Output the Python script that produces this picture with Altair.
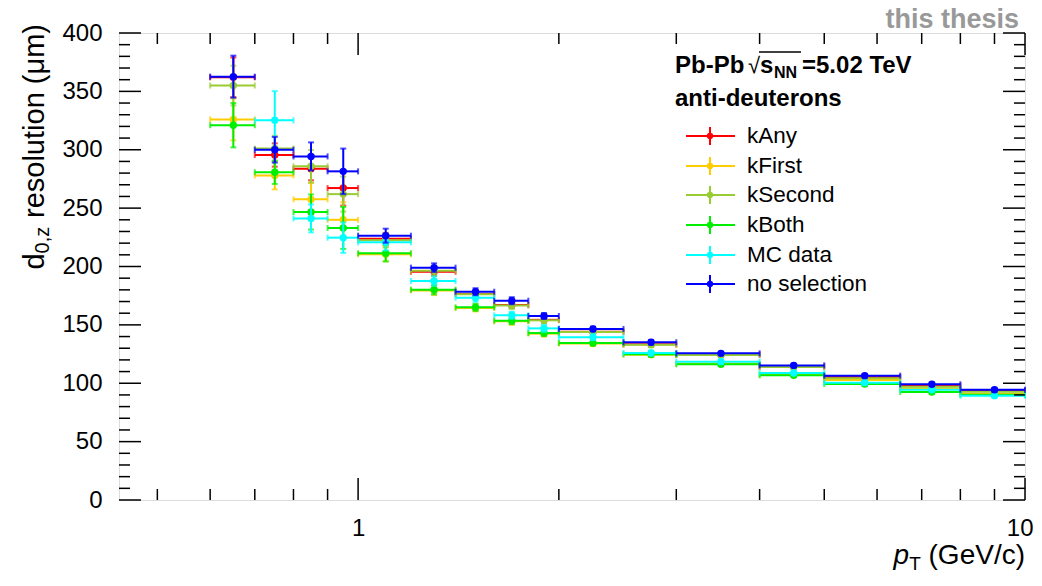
import altair as alt
import pandas as pd

# ---------------- data ----------------
bin_lo = [0.6, 0.7, 0.8, 0.9, 1.0, 1.2, 1.4, 1.6, 1.8, 2.0, 2.5, 3.0, 4.0, 5.0, 6.5, 8.0]
bin_hi = [0.7, 0.8, 0.9, 1.0, 1.2, 1.4, 1.6, 1.8, 2.0, 2.5, 3.0, 4.0, 5.0, 6.5, 8.0, 10.0]

series = ["kAny", "kFirst", "kSecond", "kBoth", "MC data", "no selection"]
colors = ["#ff0000", "#ffcc00", "#99cc33", "#00ee00", "#00ffff", "#0000ff"]

val_kany = [362, 295.5, 283.8, 267.2, 223.8, 195.5, 176.5, 167, 154.3, 144.2, 133.3, 124.5, 114.2, 105.4, 97.9, 93.6]
err_kany = [17, 10, 10, 15, 5, 3.5, 3, 2.5, 2.5, 2, 2, 1.5, 1.5, 1.5, 1.5, 1.5]
val_kfirst = [326, 278, 257.5, 240, 210.5, 179.5, 164.5, 153, 142.5, 134, 124.5, 117, 107.5, 102.8, 95.6, 91.1]
err_kfirst = [18, 12, 14, 15, 6, 4, 3, 3, 2.5, 2, 2, 1.5, 1.5, 1.5, 1.5, 1.5]
val_ksecond = [355, 301, 285.8, 262, 222.5, 196.4, 176.2, 166.5, 153.9, 144, 133, 124.3, 114, 104.2, 97.1, 92.8]
err_ksecond = [17, 11, 14, 15, 6, 4, 3, 3, 2.5, 2, 2, 1.5, 1.5, 1.5, 1.5, 1.5]
val_kboth = [321, 280.7, 246.7, 233, 211.3, 180.1, 165, 153.6, 143, 134.5, 124.8, 116.2, 106.8, 99.4, 92.5, 90.2]
err_kboth = [19, 10, 15, 18, 7, 4, 3, 3, 2.5, 2, 2, 1.5, 1.5, 1.5, 1.5, 1.5]
val_mc = [None, 325.2, 241.2, 224.7, 220.7, 187.6, 173.3, 158.2, 147, 139.4, 125.9, 118.5, 108.8, 100.5, 94.5, 89.4]
err_mc = [None, 25, 12, 13, 7, 4, 3.5, 3, 3, 2.5, 2, 2, 1.5, 1.5, 1.5, 1.5]
val_nosel = [362.6, 300, 294.3, 281.5, 226.4, 199, 178.4, 170.7, 157.6, 146.5, 135.1, 125.6, 115.3, 106.5, 99.1, 94.5]
err_nosel = [18, 11, 12, 19.5, 6, 3.7, 3, 3, 2.5, 2, 2, 1.5, 1.5, 1.5, 1.5, 1.5]

y_major = [0, 50, 100, 150, 200, 250, 300, 350, 400]
y_minor = [v for v in range(0, 401, 10) if v % 50 != 0]
x_major = [1, 10]
x_minor = [0.5, 0.6, 0.7, 0.8, 0.9, 2, 3, 4, 5, 6, 7, 8, 9]

all_vals = [val_kany, val_kfirst, val_ksecond, val_kboth, val_mc, val_nosel]
all_errs = [err_kany, err_kfirst, err_ksecond, err_kboth, err_mc, err_nosel]

rows = []
for s, vals, errs in zip(series, all_vals, all_errs):
    for lo, hi, v, e in zip(bin_lo, bin_hi, vals, errs):
        if v is None:
            continue
        rows.append(dict(series=s, lo=lo, hi=hi, x=(lo + hi) / 2, y=v, ylo=v - e, yhi=v + e))
df = pd.DataFrame(rows)

# ---------------- layout ----------------
W, H = 906, 467
FONT = "Liberation Sans"
TL_MAJ, TL_MIN = 22, 11
LS = 24  # tick label size

xs = alt.Scale(type="log", domain=[0.438, 10], nice=False)
ys = alt.Scale(domain=[0, 400], nice=False)

xaxis = alt.Axis(values=x_major, format="d", title=None, ticks=False, domain=False, grid=False,
                 labelFont=FONT, labelFontSize=LS, labelColor="black", labelPadding=16,
                 labelFlush=True, labelFlushOffset=8)
yaxis = alt.Axis(values=y_major, format="d", title=None, ticks=False, domain=False, grid=False,
                 labelFont=FONT, labelFontSize=LS, labelColor="black", labelPadding=17,
                 labelFlush=False)

layers = []

# axis carrier (invisible)
layers.append(
    alt.Chart(df).mark_point(opacity=0).encode(
        x=alt.X("x:Q", scale=xs, axis=xaxis),
        y=alt.Y("y:Q", scale=ys, axis=yaxis),
    )
)

for s, c in zip(series, colors):
    d = df[df.series == s]
    base = alt.Chart(d)
    hbar = base.mark_rule(color=c, strokeWidth=2).encode(
        x=alt.X("lo:Q", scale=xs, axis=xaxis), x2="hi:Q",
        y=alt.Y("y:Q", scale=ys, axis=yaxis))
    vbar = base.mark_rule(color=c, strokeWidth=2).encode(
        x=alt.X("x:Q", scale=xs, axis=xaxis),
        y=alt.Y("ylo:Q", scale=ys, axis=yaxis), y2="yhi:Q")
    capl = base.mark_tick(color=c, orient="vertical", size=6, thickness=2).encode(
        x=alt.X("lo:Q", scale=xs, axis=xaxis), y=alt.Y("y:Q", scale=ys, axis=yaxis))
    caph = base.mark_tick(color=c, orient="vertical", size=6, thickness=2).encode(
        x=alt.X("hi:Q", scale=xs, axis=xaxis), y=alt.Y("y:Q", scale=ys, axis=yaxis))
    capb = base.mark_tick(color=c, orient="horizontal", size=6, thickness=2).encode(
        x=alt.X("x:Q", scale=xs, axis=xaxis), y=alt.Y("ylo:Q", scale=ys, axis=yaxis))
    capt = base.mark_tick(color=c, orient="horizontal", size=6, thickness=2).encode(
        x=alt.X("x:Q", scale=xs, axis=xaxis), y=alt.Y("yhi:Q", scale=ys, axis=yaxis))
    pts = base.mark_point(filled=True, size=55, opacity=1, color=c).encode(
        x=alt.X("x:Q", scale=xs, axis=xaxis), y=alt.Y("y:Q", scale=ys, axis=yaxis))
    layers += [hbar, vbar, capl, caph, capb, capt, pts]

# ---------------- inward ROOT-style ticks ----------------
ymaj = pd.DataFrame({"v": y_major})
ymin = pd.DataFrame({"v": y_minor})
xmaj = pd.DataFrame({"v": x_major})
xmin = pd.DataFrame({"v": x_minor})
tk = dict(color="black", strokeWidth=1.5)
for dd, L in [(ymaj, TL_MAJ), (ymin, TL_MIN)]:
    layers.append(alt.Chart(dd).mark_rule(**tk).encode(
        y=alt.Y("v:Q", scale=ys, axis=yaxis), x=alt.value(0), x2=alt.value(L)))
    layers.append(alt.Chart(dd).mark_rule(**tk).encode(
        y=alt.Y("v:Q", scale=ys, axis=yaxis), x=alt.value(W), x2=alt.value(W - L)))
for dd, L in [(xmaj, TL_MAJ), (xmin, TL_MIN)]:
    layers.append(alt.Chart(dd).mark_rule(**tk).encode(
        x=alt.X("v:Q", scale=xs, axis=xaxis), y=alt.value(H), y2=alt.value(H - L)))
    layers.append(alt.Chart(dd).mark_rule(**tk).encode(
        x=alt.X("v:Q", scale=xs, axis=xaxis), y=alt.value(0), y2=alt.value(L)))

# ---------------- texts ----------------
def txt(t, x, y, size=22, bold=False, align="left", angle=0, color="black", italic=False, baseline="middle"):
    kw = dict(font=FONT, fontSize=size, align=align, baseline=baseline, color=color, text=t)
    if bold:
        kw["fontWeight"] = "bold"
    if italic:
        kw["fontStyle"] = "italic"
    if angle:
        kw["angle"] = angle
    return alt.Chart(pd.DataFrame({"a": [0]})).mark_text(**kw).encode(x=alt.value(x), y=alt.value(y))

# y title (rotated): d_{0,z} resolution (um)
TSY, SUBY = 29, 20
YT_X = -84
y_sub_end = -9 + 6.99 * TSY
layers.append(txt(" resolution (\u03bcm)", YT_X, -9, size=TSY, align="right", angle=270))
layers.append(txt("0,z", YT_X + 8, y_sub_end, size=SUBY, align="right", angle=270))
layers.append(txt("d", YT_X, y_sub_end + 1.334 * SUBY, size=TSY, align="right", angle=270))

# x title: p_T (GeV/c)
TSX, SUBX = 28, 19
XT_BASE = H + 64   # alphabetic baseline (chart px)
layers.append(txt(" (GeV/c)", W, XT_BASE, size=TSX, align="right", baseline="alphabetic"))
x_sub_end = W - 3.723 * TSX
layers.append(txt("T", x_sub_end, XT_BASE + 6, size=SUBX, align="right", baseline="alphabetic"))
layers.append(txt("p", x_sub_end - 0.611 * SUBX, XT_BASE, size=TSX, align="right", italic=True,
                  baseline="alphabetic"))

# "this thesis"
layers.append(txt("this thesis", 900, -5, size=27, bold=True, align="right", color="#999999",
                  baseline="alphabetic"))

# header
layers.append(txt("Pb-Pb", 556, 33, size=24, bold=True))
layers.append(txt("\u221a", 629, 33, size=22, bold=False))
layers.append(txt("s", 641, 33, size=24, bold=True))
layers.append(txt("NN", 655, 40, size=16, bold=True))
layers.append(txt("=5.02 TeV", 683, 33, size=24, bold=True))
layers.append(alt.Chart(pd.DataFrame({"a": [0]})).mark_rule(color="black", strokeWidth=1.5).encode(
    x=alt.value(640), x2=alt.value(682), y=alt.value(19)))
layers.append(txt("anti-deuterons", 556, 66, size=24, bold=True))

# legend
leg_y = [103, 133, 162, 192, 222, 251]
for s, c, yy in zip(series, colors, leg_y):
    layers.append(alt.Chart(pd.DataFrame({"a": [0]})).mark_rule(color=c, strokeWidth=2).encode(
        x=alt.value(567), x2=alt.value(616), y=alt.value(yy)))
    layers.append(alt.Chart(pd.DataFrame({"a": [0]})).mark_rule(color=c, strokeWidth=2).encode(
        x=alt.value(591), y=alt.value(yy - 9), y2=alt.value(yy + 9)))
    layers.append(alt.Chart(pd.DataFrame({"a": [0]})).mark_point(filled=True, size=40, opacity=1, color=c).encode(
        x=alt.value(591), y=alt.value(yy)))
    layers.append(txt(s, 628, yy, size=22.5))

chart = alt.layer(*layers).properties(
    width=W, height=H,
    autosize=alt.AutoSizeParams(type="none"),
    padding={"left": 111, "top": 25, "right": 9, "bottom": 72},
).configure_view(stroke="black", strokeWidth=2).configure(background="white")

chart.save("out.html", embed_options={"renderer": "svg", "actions": False})
